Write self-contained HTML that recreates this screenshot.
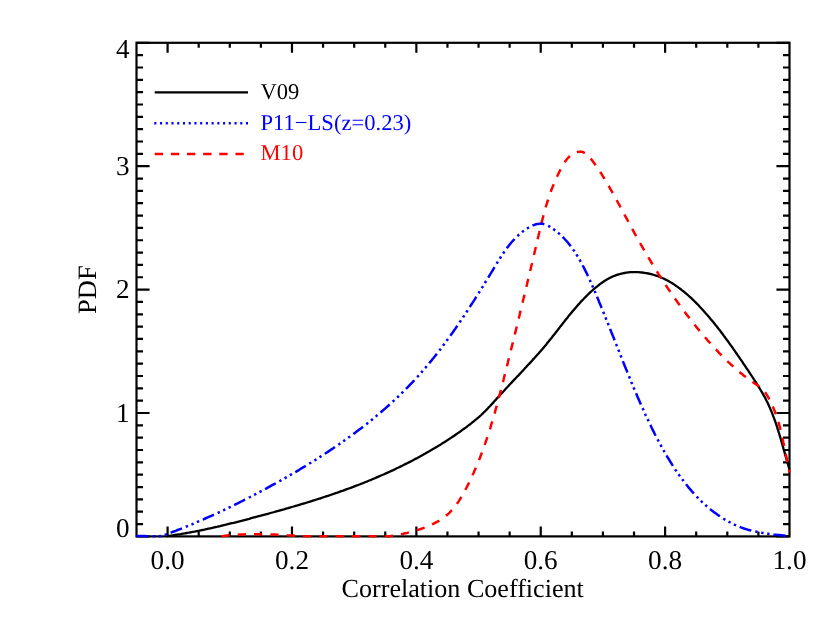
<!DOCTYPE html>
<html><head><meta charset="utf-8"><title>PDF of Correlation Coefficient</title>
<style>
html,body{margin:0;padding:0;background:#fff;}
body{width:830px;height:623px;overflow:hidden;}
svg{display:block;will-change:transform;text-rendering:geometricPrecision;font-family:"Liberation Serif",serif;}
</style></head><body>
<svg width="830" height="623" viewBox="0 0 830 623">
<rect width="830" height="623" fill="#fff"/>
<g fill="none" stroke="#000" stroke-width="2.2">
<path d="M167.60,536.40v-9.90M167.60,42.80v9.90M198.69,536.40v-4.95M198.69,42.80v4.95M229.79,536.40v-4.95M229.79,42.80v4.95M260.88,536.40v-4.95M260.88,42.80v4.95M291.98,536.40v-9.90M291.98,42.80v9.90M323.07,536.40v-4.95M323.07,42.80v4.95M354.17,536.40v-4.95M354.17,42.80v4.95M385.26,536.40v-4.95M385.26,42.80v4.95M416.36,536.40v-9.90M416.36,42.80v9.90M447.45,536.40v-4.95M447.45,42.80v4.95M478.55,536.40v-4.95M478.55,42.80v4.95M509.64,536.40v-4.95M509.64,42.80v4.95M540.74,536.40v-9.90M540.74,42.80v9.90M571.83,536.40v-4.95M571.83,42.80v4.95M602.93,536.40v-4.95M602.93,42.80v4.95M634.02,536.40v-4.95M634.02,42.80v4.95M665.12,536.40v-9.90M665.12,42.80v9.90M696.21,536.40v-4.95M696.21,42.80v4.95M727.31,536.40v-4.95M727.31,42.80v4.95M758.40,536.40v-4.95M758.40,42.80v4.95M136.50,536.40h13.06M789.50,536.40h-13.06M136.50,524.06h6.53M789.50,524.06h-6.53M136.50,511.72h6.53M789.50,511.72h-6.53M136.50,499.38h6.53M789.50,499.38h-6.53M136.50,487.04h6.53M789.50,487.04h-6.53M136.50,474.70h6.53M789.50,474.70h-6.53M136.50,462.36h6.53M789.50,462.36h-6.53M136.50,450.02h6.53M789.50,450.02h-6.53M136.50,437.68h6.53M789.50,437.68h-6.53M136.50,425.34h6.53M789.50,425.34h-6.53M136.50,413.00h13.06M789.50,413.00h-13.06M136.50,400.66h6.53M789.50,400.66h-6.53M136.50,388.32h6.53M789.50,388.32h-6.53M136.50,375.98h6.53M789.50,375.98h-6.53M136.50,363.64h6.53M789.50,363.64h-6.53M136.50,351.30h6.53M789.50,351.30h-6.53M136.50,338.96h6.53M789.50,338.96h-6.53M136.50,326.62h6.53M789.50,326.62h-6.53M136.50,314.28h6.53M789.50,314.28h-6.53M136.50,301.94h6.53M789.50,301.94h-6.53M136.50,289.60h13.06M789.50,289.60h-13.06M136.50,277.26h6.53M789.50,277.26h-6.53M136.50,264.92h6.53M789.50,264.92h-6.53M136.50,252.58h6.53M789.50,252.58h-6.53M136.50,240.24h6.53M789.50,240.24h-6.53M136.50,227.90h6.53M789.50,227.90h-6.53M136.50,215.56h6.53M789.50,215.56h-6.53M136.50,203.22h6.53M789.50,203.22h-6.53M136.50,190.88h6.53M789.50,190.88h-6.53M136.50,178.54h6.53M789.50,178.54h-6.53M136.50,166.20h13.06M789.50,166.20h-13.06M136.50,153.86h6.53M789.50,153.86h-6.53M136.50,141.52h6.53M789.50,141.52h-6.53M136.50,129.18h6.53M789.50,129.18h-6.53M136.50,116.84h6.53M789.50,116.84h-6.53M136.50,104.50h6.53M789.50,104.50h-6.53M136.50,92.16h6.53M789.50,92.16h-6.53M136.50,79.82h6.53M789.50,79.82h-6.53M136.50,67.48h6.53M789.50,67.48h-6.53M136.50,55.14h6.53M789.50,55.14h-6.53M136.50,42.80h13.06M789.50,42.80h-13.06"/>
<rect x="136.5" y="42.8" width="653.0" height="493.59999999999997" stroke-linejoin="miter"/>
</g>
<g fill="none" stroke-linecap="butt" stroke-linejoin="round">
<path d="M167.0,536.2 L169.0,535.9 L171.0,535.6 L172.9,535.3 L174.9,535.0 L176.9,534.7 L178.9,534.4 L180.9,534.1 L182.8,533.7 L184.8,533.4 L186.8,533.0 L188.7,532.7 L190.7,532.3 L192.7,531.9 L194.6,531.6 L196.6,531.2 L198.6,530.8 L200.5,530.4 L202.5,530.0 L204.4,529.6 L206.4,529.1 L208.4,528.7 L210.3,528.3 L212.3,527.9 L214.2,527.4 L216.2,527.0 L218.1,526.5 L220.1,526.1 L222.0,525.6 L224.0,525.1 L225.9,524.7 L227.9,524.2 L229.8,523.7 L231.8,523.2 L233.7,522.8 L235.7,522.3 L237.6,521.8 L239.5,521.3 L241.5,520.8 L243.4,520.3 L245.4,519.8 L247.3,519.3 L249.2,518.8 L251.2,518.2 L253.1,517.7 L255.1,517.2 L257.0,516.7 L258.9,516.2 L260.9,515.7 L262.8,515.1 L264.7,514.6 L266.7,514.1 L268.6,513.6 L270.5,513.0 L272.5,512.5 L274.4,512.0 L276.3,511.4 L278.3,510.9 L280.2,510.3 L282.1,509.8 L284.0,509.3 L286.0,508.7 L287.9,508.2 L289.8,507.6 L291.7,507.0 L293.7,506.5 L295.6,505.9 L297.5,505.4 L299.4,504.8 L301.3,504.2 L303.3,503.6 L305.2,503.1 L307.1,502.5 L309.0,501.9 L310.9,501.3 L312.8,500.7 L314.7,500.1 L316.6,499.5 L318.5,498.9 L320.4,498.3 L322.3,497.7 L324.2,497.0 L326.1,496.4 L328.0,495.8 L329.9,495.2 L331.8,494.5 L333.7,493.9 L335.6,493.2 L337.5,492.6 L339.4,491.9 L341.3,491.2 L343.2,490.6 L345.0,489.9 L346.9,489.2 L348.8,488.5 L350.7,487.8 L352.6,487.1 L354.4,486.4 L356.3,485.7 L358.2,485.0 L360.0,484.3 L361.9,483.5 L363.8,482.8 L365.6,482.0 L367.5,481.3 L369.3,480.5 L371.2,479.8 L373.0,479.0 L374.9,478.2 L376.7,477.4 L378.6,476.6 L380.4,475.8 L382.3,475.0 L384.1,474.2 L385.9,473.4 L387.7,472.6 L389.6,471.8 L391.4,470.9 L393.2,470.1 L395.0,469.2 L396.8,468.3 L398.6,467.5 L400.4,466.6 L402.2,465.7 L404.0,464.8 L405.8,463.9 L407.6,463.0 L409.4,462.1 L411.2,461.2 L413.0,460.3 L414.7,459.3 L416.5,458.4 L418.3,457.4 L420.0,456.5 L421.8,455.5 L423.5,454.6 L425.3,453.6 L427.0,452.6 L428.8,451.6 L430.5,450.6 L432.2,449.6 L433.9,448.6 L435.7,447.5 L437.4,446.5 L439.1,445.4 L440.8,444.4 L442.5,443.3 L444.2,442.3 L445.9,441.2 L447.5,440.1 L449.2,439.0 L450.9,437.9 L452.6,436.8 L454.2,435.7 L455.9,434.5 L457.5,433.4 L459.2,432.3 L460.8,431.1 L462.4,429.9 L464.0,428.8 L465.7,427.6 L467.3,426.4 L468.9,425.2 L470.5,424.0 L472.0,422.7 L473.6,421.5 L475.1,420.2 L476.7,418.9 L478.2,417.6 L479.7,416.3 L481.2,415.0 L482.6,413.6 L484.0,412.2 L485.5,410.8 L486.9,409.4 L488.2,407.9 L489.6,406.5 L491.0,405.0 L492.3,403.6 L493.7,402.1 L495.0,400.6 L496.4,399.1 L497.7,397.6 L499.1,396.1 L500.4,394.6 L501.8,393.2 L503.1,391.7 L504.5,390.2 L505.8,388.7 L507.2,387.3 L508.6,385.8 L509.9,384.3 L511.3,382.9 L512.7,381.4 L514.1,379.9 L515.4,378.5 L516.8,377.0 L518.2,375.6 L519.6,374.1 L520.9,372.7 L522.3,371.2 L523.7,369.7 L525.0,368.3 L526.4,366.8 L527.7,365.3 L529.1,363.9 L530.5,362.4 L531.8,360.9 L533.1,359.4 L534.5,358.0 L535.8,356.5 L537.1,355.0 L538.5,353.5 L539.8,352.0 L541.1,350.5 L542.4,349.0 L543.7,347.4 L545.0,345.9 L546.3,344.4 L547.5,342.8 L548.8,341.3 L550.0,339.7 L551.3,338.2 L552.5,336.6 L553.8,335.0 L555.0,333.5 L556.2,331.9 L557.5,330.3 L558.7,328.7 L559.9,327.1 L561.2,325.6 L562.4,324.0 L563.6,322.4 L564.9,320.8 L566.1,319.3 L567.4,317.7 L568.6,316.1 L569.9,314.6 L571.2,313.0 L572.4,311.5 L573.7,309.9 L575.0,308.4 L576.3,306.9 L577.6,305.4 L579.0,303.9 L580.3,302.4 L581.7,300.9 L583.1,299.5 L584.5,298.0 L585.9,296.6 L587.3,295.2 L588.7,293.8 L590.2,292.4 L591.7,291.0 L593.2,289.7 L594.7,288.4 L596.3,287.1 L597.9,285.8 L599.5,284.5 L601.1,283.3 L602.7,282.2 L604.4,281.0 L606.1,280.0 L607.8,279.0 L609.6,278.0 L611.4,277.1 L613.2,276.3 L615.0,275.6 L616.9,274.9 L618.7,274.3 L620.6,273.8 L622.6,273.4 L624.5,273.0 L626.4,272.7 L628.4,272.4 L630.4,272.2 L632.4,272.1 L634.3,272.1 L636.3,272.1 L638.3,272.2 L640.3,272.3 L642.3,272.5 L644.3,272.8 L646.3,273.1 L648.2,273.5 L650.2,273.9 L652.1,274.4 L654.1,275.0 L656.0,275.6 L657.9,276.2 L659.8,277.0 L661.6,277.7 L663.5,278.5 L665.3,279.4 L667.0,280.3 L668.8,281.3 L670.5,282.3 L672.3,283.3 L674.0,284.4 L675.6,285.5 L677.3,286.6 L678.9,287.8 L680.5,289.0 L682.1,290.3 L683.7,291.5 L685.3,292.8 L686.8,294.1 L688.3,295.5 L689.8,296.8 L691.3,298.2 L692.8,299.6 L694.2,301.0 L695.6,302.4 L697.1,303.9 L698.5,305.3 L699.8,306.8 L701.2,308.2 L702.6,309.7 L703.9,311.2 L705.2,312.7 L706.6,314.2 L707.9,315.7 L709.2,317.2 L710.4,318.7 L711.7,320.2 L713.0,321.8 L714.2,323.3 L715.5,324.9 L716.7,326.4 L717.9,328.0 L719.1,329.6 L720.4,331.1 L721.6,332.7 L722.8,334.3 L723.9,335.9 L725.1,337.5 L726.3,339.1 L727.5,340.7 L728.7,342.3 L729.8,344.0 L731.0,345.6 L732.2,347.2 L733.3,348.9 L734.5,350.5 L735.6,352.2 L736.8,353.8 L737.9,355.5 L739.1,357.1 L740.2,358.8 L741.3,360.4 L742.5,362.1 L743.6,363.8 L744.7,365.4 L745.8,367.1 L746.9,368.8 L748.1,370.4 L749.2,372.1 L750.3,373.8 L751.4,375.5 L752.5,377.2 L753.6,378.8 L754.7,380.5 L755.8,382.2 L756.8,383.9 L757.9,385.6 L759.0,387.3 L760.0,389.0 L761.0,390.7 L762.0,392.4 L763.0,394.1 L764.0,395.9 L765.0,397.6 L765.9,399.4 L766.8,401.2 L767.7,402.9 L768.5,404.8 L769.3,406.6 L770.1,408.4 L770.9,410.2 L771.7,412.1 L772.4,413.9 L773.1,415.8 L773.8,417.7 L774.5,419.5 L775.2,421.4 L775.9,423.3 L776.5,425.2 L777.1,427.1 L777.7,429.1 L778.3,431.0 L778.9,432.9 L779.5,434.8 L780.1,436.8 L780.7,438.7 L781.2,440.6 L781.8,442.6 L782.3,444.5 L782.9,446.4 L783.4,448.4 L784.0,450.3 L784.5,452.2 L785.0,454.2 L785.6,456.1 L786.1,458.0 L786.7,460.0 L787.2,461.9 L787.8,463.8 L788.4,465.7 L788.9,467.6 L789.5,469.5" stroke="#000" stroke-width="2.3"/>
<path d="M221.4,536.2 L223.4,536.0 L225.3,535.7 L227.3,535.5 L229.3,535.3 L231.3,535.1 L233.2,535.0 L235.2,534.8 L237.2,534.7 L239.2,534.6 L241.2,534.5 L243.2,534.4 L245.2,534.3 L247.2,534.3 L249.1,534.2 L251.1,534.2 L253.1,534.2 L255.1,534.2 L257.1,534.2 L259.1,534.2 L261.1,534.2 L263.1,534.3 L265.2,534.3 L267.2,534.4 L269.2,534.4 L271.2,534.5 L273.2,534.6 L275.2,534.6 L277.2,534.7 L279.2,534.8 L281.2,534.9 L283.2,535.0 L285.3,535.1 L287.3,535.3 L289.3,535.4 L291.3,535.5 L293.3,535.6 L295.3,535.8 L297.4,535.9 L299.4,536.0 L301.4,536.1 L303.4,536.2 L305.4,536.2 L307.4,536.2 L309.5,536.2 L311.5,536.2 L313.5,536.2 L315.5,536.2 L317.5,536.2 L319.6,536.2 L321.6,536.2 L323.6,536.2 L325.6,536.2 L327.6,536.2 L329.6,536.2 L331.6,536.2 L333.7,536.2 L335.7,536.2 L337.7,536.2 L339.7,536.2 L341.7,536.2 L343.7,536.2 L345.7,536.2 L347.7,536.2 L349.7,536.2 L351.7,536.2 L353.7,536.2 L355.7,536.2 L357.7,536.2 L359.7,536.2 L361.7,536.2 L363.7,536.2 L365.7,536.2 L367.7,536.2 L369.7,536.2 L371.7,536.2 L373.7,536.2 L375.6,536.2 L377.6,536.2 L379.6,536.2 L381.6,536.2 L383.6,536.2 L385.5,536.2 L387.5,536.2 L389.5,536.2 L391.4,535.9 L393.4,535.6 L395.4,535.3 L397.3,534.9 L399.3,534.6 L401.2,534.2 L403.2,533.8 L405.1,533.3 L407.1,532.9 L409.0,532.4 L410.9,531.9 L412.9,531.4 L414.8,530.8 L416.7,530.2 L418.7,529.6 L420.6,529.0 L422.5,528.3 L424.4,527.6 L426.3,526.9 L428.1,526.2 L430.0,525.4 L431.8,524.5 L433.6,523.7 L435.4,522.7 L437.1,521.8 L438.9,520.8 L440.5,519.7 L442.2,518.7 L443.8,517.5 L445.3,516.3 L446.9,515.1 L448.3,513.8 L449.8,512.4 L451.1,511.0 L452.5,509.5 L453.7,508.0 L455.0,506.5 L456.2,504.9 L457.3,503.3 L458.5,501.6 L459.6,499.9 L460.6,498.2 L461.7,496.4 L462.7,494.7 L463.7,492.9 L464.7,491.1 L465.6,489.3 L466.6,487.5 L467.5,485.7 L468.4,483.9 L469.3,482.1 L470.2,480.3 L471.0,478.5 L471.9,476.6 L472.7,474.8 L473.6,473.0 L474.4,471.1 L475.2,469.3 L476.0,467.5 L476.8,465.6 L477.5,463.8 L478.3,461.9 L479.0,460.0 L479.8,458.2 L480.5,456.3 L481.2,454.5 L481.9,452.6 L482.6,450.7 L483.3,448.8 L484.0,447.0 L484.6,445.1 L485.3,443.2 L485.9,441.3 L486.6,439.4 L487.2,437.5 L487.8,435.6 L488.5,433.8 L489.1,431.9 L489.7,430.0 L490.3,428.1 L490.8,426.1 L491.4,424.2 L492.0,422.3 L492.6,420.4 L493.1,418.5 L493.7,416.6 L494.2,414.7 L494.8,412.8 L495.3,410.8 L495.8,408.9 L496.4,407.0 L496.9,405.1 L497.4,403.2 L497.9,401.2 L498.5,399.3 L499.0,397.4 L499.5,395.4 L500.0,393.5 L500.5,391.6 L501.0,389.6 L501.5,387.7 L502.0,385.8 L502.5,383.8 L503.0,381.9 L503.5,380.0 L503.9,378.0 L504.4,376.1 L504.9,374.1 L505.4,372.2 L505.9,370.3 L506.4,368.3 L506.9,366.4 L507.4,364.4 L507.9,362.5 L508.3,360.6 L508.8,358.6 L509.3,356.7 L509.8,354.7 L510.3,352.8 L510.8,350.8 L511.2,348.9 L511.7,347.0 L512.2,345.0 L512.7,343.1 L513.2,341.1 L513.6,339.2 L514.1,337.2 L514.6,335.3 L515.1,333.3 L515.6,331.4 L516.0,329.4 L516.5,327.5 L517.0,325.6 L517.5,323.6 L517.9,321.7 L518.4,319.7 L518.9,317.8 L519.4,315.8 L519.8,313.9 L520.3,311.9 L520.8,310.0 L521.2,308.0 L521.7,306.1 L522.2,304.1 L522.7,302.2 L523.1,300.2 L523.6,298.3 L524.1,296.4 L524.5,294.4 L525.0,292.5 L525.5,290.5 L525.9,288.6 L526.4,286.6 L526.9,284.7 L527.3,282.7 L527.8,280.8 L528.3,278.8 L528.7,276.9 L529.2,274.9 L529.7,273.0 L530.1,271.1 L530.6,269.1 L531.0,267.2 L531.5,265.2 L532.0,263.3 L532.4,261.3 L532.9,259.4 L533.3,257.4 L533.8,255.5 L534.3,253.6 L534.7,251.6 L535.2,249.7 L535.6,247.7 L536.1,245.8 L536.5,243.9 L537.0,241.9 L537.5,240.0 L537.9,238.0 L538.4,236.1 L538.8,234.2 L539.3,232.2 L539.7,230.3 L540.2,228.4 L540.7,226.4 L541.1,224.5 L541.6,222.6 L542.1,220.6 L542.6,218.7 L543.1,216.8 L543.6,214.9 L544.1,212.9 L544.6,211.0 L545.2,209.1 L545.7,207.2 L546.3,205.3 L546.9,203.4 L547.5,201.5 L548.1,199.6 L548.7,197.7 L549.3,195.8 L550.0,193.9 L550.7,192.0 L551.3,190.1 L552.1,188.2 L552.8,186.4 L553.6,184.5 L554.3,182.6 L555.1,180.8 L555.9,178.9 L556.8,177.1 L557.7,175.2 L558.6,173.4 L559.5,171.5 L560.4,169.7 L561.4,167.9 L562.4,166.1 L563.5,164.3 L564.6,162.5 L565.7,160.8 L566.9,159.2 L568.2,157.7 L569.6,156.3 L571.0,155.1 L572.5,154.0 L574.1,153.1 L575.9,152.4 L577.7,151.9 L579.6,151.7 L581.6,151.8 L583.4,152.3 L585.1,153.2 L586.7,154.4 L588.2,155.8 L589.6,157.3 L591.0,159.0 L592.3,160.6 L593.5,162.2 L594.8,163.9 L596.0,165.5 L597.1,167.2 L598.2,168.8 L599.3,170.5 L600.4,172.2 L601.5,173.9 L602.5,175.6 L603.6,177.3 L604.6,179.0 L605.6,180.7 L606.6,182.4 L607.7,184.1 L608.7,185.8 L609.7,187.6 L610.6,189.3 L611.6,191.0 L612.6,192.8 L613.6,194.5 L614.6,196.3 L615.5,198.0 L616.5,199.8 L617.4,201.5 L618.4,203.3 L619.4,205.0 L620.3,206.8 L621.3,208.5 L622.2,210.3 L623.1,212.1 L624.1,213.8 L625.0,215.6 L626.0,217.4 L626.9,219.1 L627.9,220.9 L628.8,222.6 L629.8,224.4 L630.7,226.2 L631.7,227.9 L632.6,229.7 L633.6,231.4 L634.5,233.2 L635.5,235.0 L636.5,236.7 L637.5,238.5 L638.4,240.2 L639.4,241.9 L640.4,243.7 L641.4,245.4 L642.4,247.2 L643.4,248.9 L644.4,250.6 L645.4,252.4 L646.4,254.1 L647.4,255.8 L648.4,257.5 L649.5,259.2 L650.5,261.0 L651.5,262.7 L652.6,264.4 L653.6,266.1 L654.6,267.8 L655.7,269.5 L656.8,271.2 L657.8,272.9 L658.9,274.6 L660.0,276.2 L661.0,277.9 L662.1,279.6 L663.2,281.3 L664.3,282.9 L665.4,284.6 L666.5,286.3 L667.6,287.9 L668.7,289.6 L669.9,291.2 L671.0,292.9 L672.1,294.5 L673.3,296.2 L674.4,297.8 L675.6,299.4 L676.7,301.1 L677.9,302.7 L679.0,304.3 L680.2,305.9 L681.4,307.5 L682.6,309.1 L683.8,310.8 L685.0,312.3 L686.2,313.9 L687.4,315.5 L688.6,317.1 L689.8,318.7 L691.1,320.3 L692.3,321.8 L693.5,323.4 L694.8,325.0 L696.0,326.5 L697.3,328.1 L698.6,329.6 L699.8,331.2 L701.1,332.7 L702.4,334.2 L703.7,335.7 L705.0,337.3 L706.3,338.8 L707.6,340.3 L709.0,341.8 L710.3,343.3 L711.6,344.8 L713.0,346.3 L714.3,347.8 L715.7,349.2 L717.1,350.7 L718.4,352.1 L719.8,353.6 L721.2,355.0 L722.6,356.5 L724.1,357.9 L725.5,359.3 L726.9,360.7 L728.4,362.1 L729.8,363.4 L731.3,364.8 L732.8,366.1 L734.3,367.5 L735.8,368.8 L737.3,370.1 L738.8,371.4 L740.3,372.7 L741.9,373.9 L743.4,375.2 L745.0,376.4 L746.6,377.6 L748.2,378.8 L749.8,380.0 L751.4,381.2 L753.1,382.3 L754.7,383.4 L756.4,384.6 L758.0,385.7 L759.6,386.9 L761.1,388.2 L762.5,389.5 L763.9,390.9 L765.2,392.5 L766.3,394.1 L767.4,395.8 L768.4,397.6 L769.4,399.4 L770.3,401.2 L771.2,403.0 L772.0,404.8 L772.9,406.6 L773.6,408.5 L774.4,410.4 L775.1,412.2 L775.8,414.1 L776.5,416.0 L777.1,417.9 L777.7,419.8 L778.3,421.7 L778.9,423.6 L779.4,425.5 L779.9,427.4 L780.4,429.4 L780.9,431.3 L781.4,433.2 L781.8,435.2 L782.3,437.1 L782.7,439.1 L783.1,441.0 L783.5,443.0 L784.0,444.9 L784.3,446.9 L784.7,448.9 L785.1,450.8 L785.5,452.8 L785.9,454.8 L786.3,456.7 L786.7,458.7 L787.0,460.6 L787.4,462.6 L787.8,464.6 L788.2,466.5 L788.7,468.5 L789.1,470.4 L789.5,472.4" stroke="#ff0000" stroke-width="2.5" stroke-dasharray="8.25 8.1"/>
<path d="M136.5,536.2 L138.5,536.0 L140.4,536.0 L142.4,536.0 L144.5,536.1 L146.5,536.2 L148.5,536.2 L150.6,536.2 L152.6,536.2 L154.6,536.2 L156.6,536.2 L158.6,536.2 L160.6,536.1 L162.5,535.6 L164.4,535.0 L166.3,534.3 L168.2,533.6 L170.1,532.9 L172.0,532.2 L173.8,531.5 L175.7,530.8 L177.6,530.0 L179.4,529.3 L181.3,528.6 L183.2,527.8 L185.0,527.1 L186.9,526.3 L188.7,525.6 L190.6,524.8 L192.4,524.1 L194.3,523.3 L196.1,522.5 L197.9,521.7 L199.8,520.9 L201.6,520.1 L203.4,519.4 L205.3,518.5 L207.1,517.7 L208.9,516.9 L210.7,516.1 L212.5,515.3 L214.3,514.5 L216.2,513.6 L218.0,512.8 L219.8,512.0 L221.6,511.1 L223.4,510.3 L225.2,509.4 L227.0,508.5 L228.8,507.7 L230.6,506.8 L232.4,505.9 L234.1,505.1 L235.9,504.2 L237.7,503.3 L239.5,502.4 L241.3,501.5 L243.1,500.6 L244.8,499.7 L246.6,498.8 L248.4,497.9 L250.2,497.0 L251.9,496.1 L253.7,495.1 L255.5,494.2 L257.2,493.3 L259.0,492.3 L260.8,491.4 L262.5,490.5 L264.3,489.5 L266.1,488.6 L267.8,487.6 L269.6,486.6 L271.3,485.7 L273.1,484.7 L274.8,483.8 L276.6,482.8 L278.3,481.8 L280.1,480.8 L281.8,479.8 L283.6,478.8 L285.3,477.9 L287.1,476.9 L288.8,475.9 L290.5,474.9 L292.3,473.8 L294.0,472.8 L295.8,471.8 L297.5,470.8 L299.2,469.8 L300.9,468.7 L302.7,467.7 L304.4,466.7 L306.1,465.6 L307.8,464.6 L309.5,463.5 L311.2,462.5 L312.9,461.4 L314.6,460.3 L316.4,459.3 L318.0,458.2 L319.7,457.1 L321.4,456.0 L323.1,454.9 L324.8,453.8 L326.5,452.7 L328.2,451.6 L329.8,450.5 L331.5,449.4 L333.2,448.3 L334.8,447.1 L336.5,446.0 L338.2,444.9 L339.8,443.7 L341.5,442.6 L343.1,441.4 L344.7,440.3 L346.4,439.1 L348.0,437.9 L349.6,436.8 L351.2,435.6 L352.9,434.4 L354.5,433.2 L356.1,432.0 L357.7,430.8 L359.3,429.6 L360.9,428.4 L362.4,427.2 L364.0,425.9 L365.6,424.7 L367.2,423.5 L368.7,422.2 L370.3,421.0 L371.9,419.7 L373.4,418.4 L374.9,417.2 L376.5,415.9 L378.0,414.6 L379.5,413.3 L381.1,412.0 L382.6,410.7 L384.1,409.4 L385.6,408.1 L387.1,406.8 L388.6,405.5 L390.0,404.1 L391.5,402.8 L393.0,401.4 L394.4,400.1 L395.9,398.7 L397.4,397.4 L398.8,396.0 L400.2,394.6 L401.7,393.2 L403.1,391.8 L404.5,390.4 L405.9,389.0 L407.3,387.6 L408.7,386.2 L410.1,384.7 L411.4,383.3 L412.8,381.9 L414.2,380.4 L415.5,378.9 L416.9,377.5 L418.2,376.0 L419.5,374.5 L420.9,373.0 L422.2,371.5 L423.5,370.0 L424.8,368.5 L426.1,367.0 L427.4,365.5 L428.6,364.0 L429.9,362.4 L431.2,360.9 L432.4,359.3 L433.7,357.8 L434.9,356.2 L436.2,354.6 L437.4,353.1 L438.6,351.5 L439.9,349.9 L441.1,348.3 L442.3,346.7 L443.5,345.1 L444.7,343.5 L445.9,341.9 L447.0,340.3 L448.2,338.7 L449.4,337.1 L450.6,335.4 L451.7,333.8 L452.9,332.2 L454.0,330.5 L455.2,328.9 L456.3,327.2 L457.5,325.6 L458.6,323.9 L459.7,322.2 L460.9,320.6 L462.0,318.9 L463.1,317.2 L464.2,315.6 L465.3,313.9 L466.4,312.2 L467.6,310.5 L468.6,308.8 L469.7,307.1 L470.8,305.4 L471.9,303.7 L473.0,302.1 L474.1,300.4 L475.2,298.6 L476.2,296.9 L477.3,295.2 L478.4,293.5 L479.5,291.8 L480.5,290.1 L481.6,288.4 L482.7,286.7 L483.7,285.0 L484.8,283.2 L485.8,281.5 L486.9,279.8 L487.9,278.1 L489.0,276.4 L490.0,274.6 L491.1,272.9 L492.1,271.2 L493.2,269.5 L494.2,267.7 L495.2,266.0 L496.3,264.3 L497.3,262.6 L498.4,260.9 L499.4,259.2 L500.5,257.5 L501.6,255.8 L502.7,254.1 L503.8,252.5 L504.9,250.9 L506.1,249.2 L507.3,247.6 L508.5,246.1 L509.7,244.5 L510.9,243.0 L512.2,241.5 L513.5,240.1 L514.9,238.6 L516.2,237.2 L517.7,235.9 L519.1,234.5 L520.6,233.3 L522.2,232.0 L523.8,230.8 L525.4,229.7 L527.1,228.5 L528.8,227.5 L530.6,226.5 L532.4,225.7 L534.3,224.9 L536.1,224.3 L538.0,223.9 L539.9,223.7 L541.8,223.8 L543.7,224.1 L545.6,224.6 L547.5,225.5 L549.3,226.4 L551.1,227.6 L552.9,228.8 L554.6,230.0 L556.2,231.2 L557.8,232.5 L559.4,233.9 L560.9,235.2 L562.3,236.6 L563.7,238.0 L565.1,239.5 L566.5,241.0 L567.8,242.5 L569.0,244.0 L570.3,245.6 L571.5,247.2 L572.6,248.8 L573.8,250.4 L574.9,252.1 L576.0,253.7 L577.0,255.4 L578.1,257.1 L579.1,258.8 L580.1,260.6 L581.1,262.3 L582.0,264.0 L582.9,265.8 L583.9,267.6 L584.7,269.4 L585.6,271.1 L586.5,272.9 L587.4,274.8 L588.2,276.6 L589.0,278.4 L589.9,280.2 L590.7,282.1 L591.5,283.9 L592.3,285.7 L593.1,287.6 L593.9,289.4 L594.7,291.3 L595.5,293.1 L596.2,294.9 L597.0,296.8 L597.8,298.6 L598.6,300.5 L599.3,302.3 L600.1,304.2 L600.9,306.0 L601.6,307.9 L602.4,309.7 L603.1,311.6 L603.9,313.5 L604.6,315.3 L605.4,317.2 L606.1,319.0 L606.9,320.9 L607.6,322.7 L608.4,324.6 L609.1,326.5 L609.9,328.3 L610.6,330.2 L611.3,332.0 L612.1,333.9 L612.8,335.8 L613.6,337.6 L614.3,339.5 L615.0,341.3 L615.8,343.2 L616.5,345.1 L617.2,346.9 L618.0,348.8 L618.7,350.6 L619.5,352.5 L620.2,354.4 L620.9,356.2 L621.7,358.1 L622.4,359.9 L623.1,361.8 L623.9,363.7 L624.6,365.5 L625.4,367.4 L626.1,369.2 L626.9,371.1 L627.6,372.9 L628.4,374.8 L629.1,376.6 L629.9,378.5 L630.7,380.3 L631.4,382.2 L632.2,384.0 L633.0,385.9 L633.7,387.7 L634.5,389.6 L635.3,391.4 L636.1,393.3 L636.8,395.1 L637.6,396.9 L638.4,398.8 L639.2,400.6 L640.0,402.4 L640.8,404.3 L641.6,406.1 L642.4,407.9 L643.3,409.7 L644.1,411.6 L644.9,413.4 L645.7,415.2 L646.6,417.0 L647.4,418.8 L648.3,420.6 L649.1,422.4 L650.0,424.2 L650.9,426.0 L651.7,427.8 L652.6,429.6 L653.5,431.4 L654.4,433.2 L655.3,435.0 L656.3,436.8 L657.2,438.6 L658.1,440.3 L659.0,442.1 L660.0,443.9 L661.0,445.6 L661.9,447.4 L662.9,449.1 L663.9,450.9 L664.9,452.6 L665.9,454.3 L666.9,456.1 L667.9,457.8 L669.0,459.5 L670.0,461.2 L671.1,462.9 L672.1,464.6 L673.2,466.3 L674.3,468.0 L675.4,469.7 L676.6,471.3 L677.7,473.0 L678.8,474.6 L680.0,476.3 L681.2,477.9 L682.4,479.5 L683.6,481.1 L684.8,482.7 L686.0,484.3 L687.3,485.8 L688.5,487.4 L689.8,488.9 L691.1,490.4 L692.4,492.0 L693.8,493.4 L695.1,494.9 L696.5,496.4 L697.9,497.8 L699.3,499.3 L700.7,500.7 L702.2,502.1 L703.6,503.4 L705.1,504.8 L706.6,506.1 L708.1,507.4 L709.6,508.7 L711.2,510.0 L712.8,511.2 L714.4,512.4 L716.0,513.6 L717.6,514.8 L719.2,515.9 L720.9,517.0 L722.6,518.1 L724.3,519.2 L726.0,520.2 L727.7,521.2 L729.4,522.1 L731.2,523.0 L733.0,523.9 L734.8,524.8 L736.6,525.6 L738.4,526.4 L740.3,527.1 L742.2,527.8 L744.1,528.5 L746.0,529.1 L747.9,529.7 L749.8,530.2 L751.8,530.7 L753.7,531.2 L755.7,531.6 L757.7,532.0 L759.7,532.4 L761.7,532.8 L763.7,533.1 L765.7,533.4 L767.7,533.7 L769.7,534.0 L771.7,534.2 L773.7,534.5 L775.7,534.7 L777.7,534.9 L779.7,535.1 L781.7,535.3 L783.6,535.5 L785.6,535.7 L787.6,535.8 L789.5,536.0" stroke="#0000ff" stroke-width="2.5" stroke-dasharray="12.2 4.1 2.4 3.65 2.4 3.65 2.4 3.9"/>
</g>
<g fill="none">
<path d="M154.7,92.4H248" stroke="#000" stroke-width="2.2"/>
<path d="M154.3,123.2H248.2" stroke="#0000ff" stroke-width="2.4" stroke-dasharray="2.05 3.68"/>
<path d="M154.7,154H248" stroke="#ff0000" stroke-width="2.35" stroke-dasharray="8.3 7.85"/>
</g>
<g font-size="22.6px">
<text x="260.5" y="98.5" fill="#000">V09</text>
<text x="260.5" y="129.6" fill="#0000ff">P11−LS(z=0.23)</text>
<text x="260.5" y="160.1" fill="#ff0000">M10</text>
</g>
<g font-size="27.2px" fill="#000">
<text x="167.6" y="569.1" text-anchor="middle">0.0</text><text x="292.0" y="569.1" text-anchor="middle">0.2</text><text x="416.4" y="569.1" text-anchor="middle">0.4</text><text x="540.7" y="569.1" text-anchor="middle">0.6</text><text x="665.1" y="569.1" text-anchor="middle">0.8</text><text x="789.5" y="569.1" text-anchor="middle">1.0</text>
<text x="129.6" y="536.8" text-anchor="end">0</text><text x="129.6" y="421.8" text-anchor="end">1</text><text x="129.6" y="298.2" text-anchor="end">2</text><text x="129.6" y="175.1" text-anchor="end">3</text><text x="129.6" y="57.6" text-anchor="end">4</text>
</g>
<g font-size="26.2px" fill="#000">
<text x="462.7" y="596.6" text-anchor="middle" font-size="26.1px">Correlation Coefficient</text>
<text transform="translate(95.6,289.6) rotate(-90)" text-anchor="middle" font-size="26.5px">PDF</text>
</g>
</svg>
</body></html>
